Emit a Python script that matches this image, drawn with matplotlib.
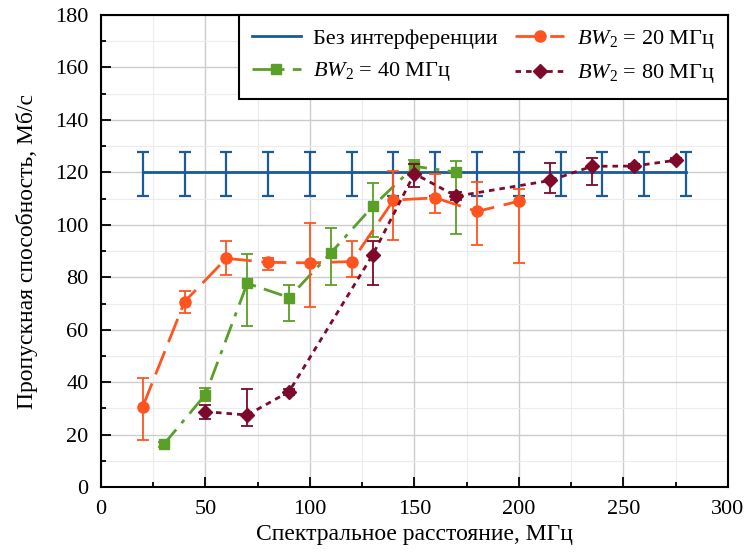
import matplotlib
matplotlib.use('Agg')
import matplotlib.pyplot as plt
from matplotlib.ticker import MultipleLocator

plt.rcParams['font.family'] = ['Liberation Serif', 'DejaVu Serif']
plt.rcParams['mathtext.fontset'] = 'custom'
plt.rcParams['mathtext.rm'] = 'Liberation Serif'
plt.rcParams['mathtext.it'] = 'Liberation Serif:italic'
plt.rcParams['font.size'] = 16

# без интерференции
x_ref = [20, 40, 60, 80, 100, 120, 140, 160, 180, 200, 220, 240, 260, 280]
y_ref = [120] * len(x_ref)
err_ref_lo = [9.2] * len(x_ref)
err_ref_hi = [7.7] * len(x_ref)

# BW2 = 20 МГц
x_20 = [20, 40, 60, 80, 100, 120, 140, 160, 180, 200]
y_20 = [30.7, 70.7, 87.2, 85.7, 85.5, 86.0, 109.4, 110.3, 105.1, 109.0]
lo_20 = [18.0, 66.5, 81.0, 82.8, 68.8, 80.2, 94.3, 104.5, 92.5, 85.6]
hi_20 = [41.6, 74.8, 94.0, 87.4, 100.8, 93.7, 120.6, 119.5, 116.3, 113.7]

# BW2 = 40 МГц
x_40 = [30, 50, 70, 90, 110, 130, 150, 170]
y_40 = [16.3, 35.3, 77.7, 72.3, 89.3, 107.0, 122.3, 120.1]
lo_40 = [15.3, 33.0, 61.3, 63.3, 77.1, 95.5, 119.5, 96.4]
hi_40 = [17.3, 37.9, 88.7, 77.1, 98.6, 116.0, 124.6, 124.2]

# BW2 = 80 МГц
x_80 = [50, 70, 90, 130, 150, 170, 215, 235, 255, 275]
y_80 = [28.8, 27.5, 36.4, 88.5, 119.5, 110.9, 116.9, 122.3, 122.4, 124.6]
lo_80 = [25.9, 23.3, 35.2, 77.2, 114.6, 109.3, 112.2, 115.3, 121.6, 123.8]
hi_80 = [31.2, 37.6, 37.6, 94.0, 123.0, 112.7, 123.7, 125.5, 123.2, 125.4]

c_ref = '#1a5a98'
c_20 = '#ff5420'
c_40 = '#5a9f28'
c_80 = '#7d0a2a'


def yerr(y, lo, hi):
    return [[a - b for a, b in zip(y, lo)], [b - a for a, b in zip(y, hi)]]


fig = plt.figure(figsize=(7.48, 5.53), dpi=100)
ax = fig.add_axes([0.135, 0.119, 0.838, 0.854])

lw = 2.0
eb_ref = ax.errorbar(x_ref, y_ref, yerr=[err_ref_lo, err_ref_hi], color=c_ref, lw=lw,
                     capsize=4.5, capthick=1.6, elinewidth=1.6, zorder=3)
eb_40 = ax.errorbar(x_40, y_40, yerr=yerr(y_40, lo_40, hi_40), color=c_40, lw=lw,
                    dashes=(7, 3, 1.5, 3), marker='s', ms=7, capsize=4.5, capthick=1.3,
                    elinewidth=1.3, zorder=4)
eb_20 = ax.errorbar(x_20, y_20, yerr=yerr(y_20, lo_20, hi_20), color=c_20, lw=lw,
                    dashes=(9, 3.5), marker='o', ms=8, capsize=4.5, capthick=1.3,
                    elinewidth=1.3, zorder=5)
eb_80 = ax.errorbar(x_80, y_80, yerr=yerr(y_80, lo_80, hi_80), color=c_80, lw=lw,
                    dashes=(2, 1.8), marker='D', ms=7, capsize=4.5, capthick=1.3,
                    elinewidth=1.3, zorder=6)

ax.set_xlim(0, 300)
ax.set_ylim(0, 180)
ax.xaxis.set_major_locator(MultipleLocator(50))
ax.xaxis.set_minor_locator(MultipleLocator(25))
ax.yaxis.set_major_locator(MultipleLocator(20))
ax.yaxis.set_minor_locator(MultipleLocator(10))
ax.grid(which='major', color='#cccccc', lw=1.0)
ax.grid(which='minor', color='#ececec', lw=0.8)
ax.set_axisbelow(True)
ax.tick_params(which='both', direction='in', top=False, right=False, width=1.3)
ax.tick_params(which='major', length=7)
ax.tick_params(which='minor', length=3.5)
ax.tick_params(axis='x', which='both', pad=9)
ax.tick_params(axis='y', which='both', pad=9)
for s in ax.spines.values():
    s.set_linewidth(1.5)

ax.set_xlabel('Спектральное расстояние, МГц', fontsize=17, labelpad=4)
ax.set_ylabel('Пропускная способность, Мб/с', fontsize=17, labelpad=12)

handles = [eb_ref[0], eb_40[0], eb_20[0], eb_80[0]]
labels = ['Без интерференции', '$BW_2$ = 40 МГц', '$BW_2$ = 20 МГц', '$BW_2$ = 80 МГц']
leg = ax.legend(handles, labels, ncol=2, loc='upper right', fancybox=False,
                edgecolor='black', framealpha=1, borderaxespad=0, handlelength=2.2,
                handletextpad=0.55, columnspacing=0.8, borderpad=0.6)
leg.get_frame().set_linewidth(1.5)

fig.savefig('out.png', dpi=100)
